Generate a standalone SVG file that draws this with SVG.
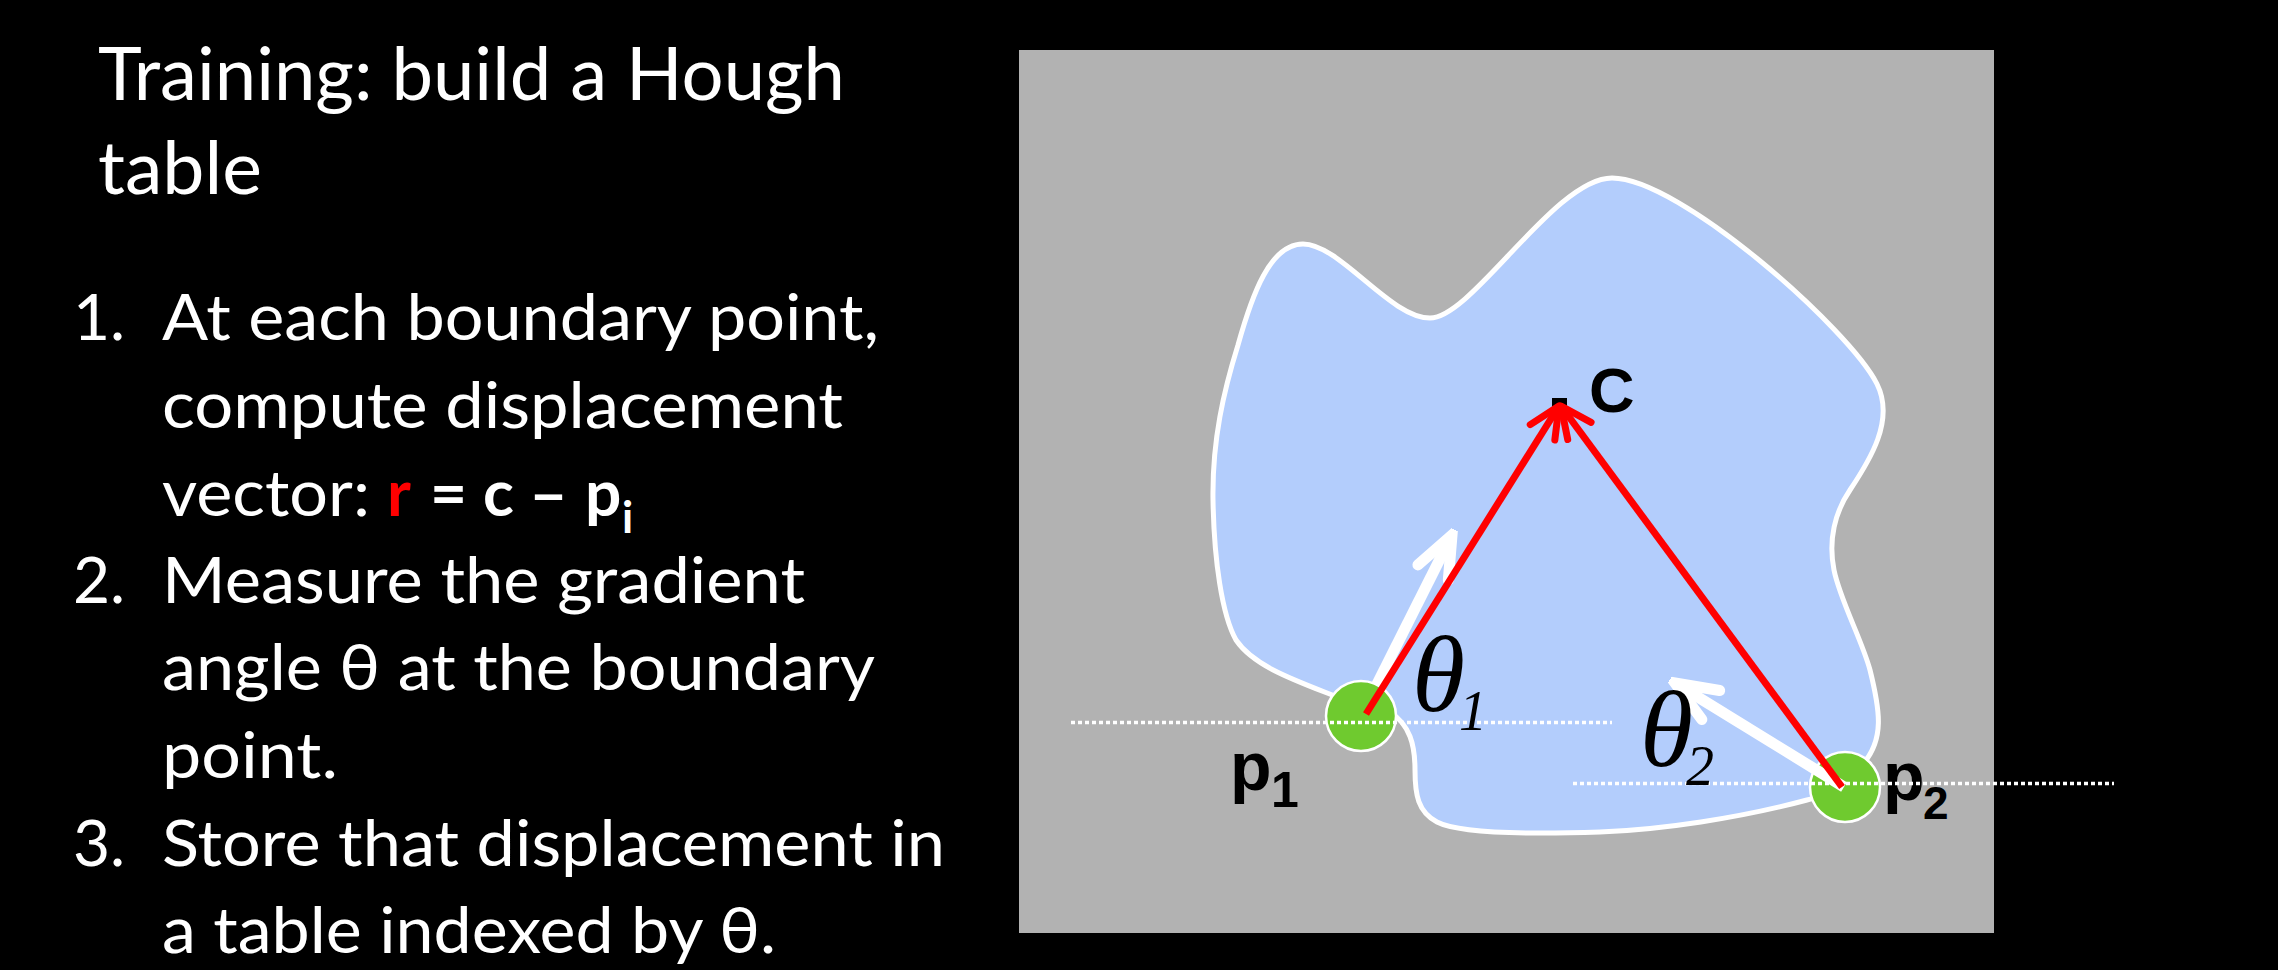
<svg xmlns="http://www.w3.org/2000/svg" width="2278" height="970" viewBox="0 0 2278 970">
<style>
.title{font-family:Lato,"Open Sans",sans-serif;font-size:74px;fill:#fff}
.body{font-family:Lato,"Open Sans",sans-serif;font-size:64px;fill:#fff}
.bold{font-weight:bold}
.lbl{font-family:"Liberation Sans",Arial,sans-serif;font-weight:bold;fill:#000}
.th{font-family:"Liberation Serif","Times New Roman",serif;font-style:italic;fill:#000}
.dot{stroke:#fff;stroke-width:3.5;stroke-dasharray:4 3;fill:none}
.red{stroke:#ff0000;stroke-width:7;fill:none}
.wht{stroke:#fff;stroke-width:11;fill:none}
.pt{fill:#6fca2f;stroke:#fff;stroke-width:2.5}
</style>
<defs>
<marker id="ah-red" markerUnits="userSpaceOnUse" viewBox="-40 -20 46 40" markerWidth="46" markerHeight="40" refX="0" refY="0" orient="auto">
<path d="M-31,-14.5 L0,0 L-31,14.5" fill="none" stroke="#ff0000" stroke-width="7" stroke-linecap="round" stroke-linejoin="round"/>
</marker>
<marker id="ah-wht" markerUnits="userSpaceOnUse" viewBox="-50 -25 56 50" markerWidth="56" markerHeight="50" refX="0" refY="0" orient="auto">
<path d="M-42,-17 L0,0 L-42,17" fill="none" stroke="#fff" stroke-width="11" stroke-linecap="round" stroke-linejoin="miter"/>
</marker>
</defs>
<rect x="0" y="0" width="2278" height="970" fill="#000"/>

<g id="text-panel">
<text class="title" x="98" y="100" textLength="747" lengthAdjust="spacingAndGlyphs">Training: build a Hough</text>
<text class="title" x="98" y="194" textLength="164" lengthAdjust="spacingAndGlyphs">table</text>
<text class="body" x="73" y="340">1.</text>
<text class="body" x="162" y="340" textLength="717" lengthAdjust="spacingAndGlyphs">At each boundary point,</text>
<text class="body" x="162" y="428" textLength="681" lengthAdjust="spacingAndGlyphs">compute displacement</text>
<text class="body" x="162" y="516" textLength="208" lengthAdjust="spacingAndGlyphs">vector:</text>
<text class="body bold" y="516"><tspan x="387" fill="#ff0000">r</tspan><tspan x="430">=</tspan><tspan x="483">c</tspan><tspan x="585">p</tspan><tspan x="622" y="533" font-size="44">i</tspan></text>
<text class="body bold" x="529" y="516" textLength="39" lengthAdjust="spacingAndGlyphs">–</text>
<text class="body" x="73" y="603">2.</text>
<text class="body" x="162" y="603" textLength="643" lengthAdjust="spacingAndGlyphs">Measure the gradient</text>
<text class="body" x="162" y="690" textLength="713" lengthAdjust="spacingAndGlyphs">angle θ at the boundary</text>
<text class="body" x="162" y="778" textLength="176" lengthAdjust="spacingAndGlyphs">point.</text>
<text class="body" x="73" y="866">3.</text>
<text class="body" x="162" y="866" textLength="783" lengthAdjust="spacingAndGlyphs">Store that displacement in</text>
<text class="body" x="162" y="953" textLength="614" lengthAdjust="spacingAndGlyphs">a table indexed by θ.</text>
</g>

<g id="panel">
<rect x="1019" y="50" width="975" height="883" fill="#b2b2b2"/>
</g>

<g id="shape">
<path d="M1345,700 C1300,682 1255,668 1236,640 C1222,615 1214,560 1213,500 C1212,440 1224,390 1238,345 C1252,295 1270,244 1303,244 C1340,244 1390,318 1430,318 C1472,318 1555,178 1612,178 C1680,178 1850,330 1877,384 C1895,420 1870,460 1850,490 C1835,512 1828,540 1834,570 C1840,600 1862,640 1870,670 C1880,710 1885,740 1862,765 C1850,780 1830,795 1807,800 C1740,818 1660,830 1600,832 C1540,834 1460,834 1437,822 C1418,812 1415,795 1415,770 C1415,745 1410,725 1390,712 Z" fill="#b3cdfc" stroke="#fff" stroke-width="5" stroke-linejoin="round"/>
</g>

<g id="connectors">
<line class="wht" x1="1361" y1="716" x2="1452" y2="535" marker-end="url(#ah-wht)"/>
</g>

<g id="p1">
<circle class="pt" cx="1361" cy="716" r="35"/>
<text class="lbl" x="1230" y="790" font-size="68">p<tspan x="1271" y="807" font-size="50">1</tspan></text>
</g>

<g id="p2">
<circle class="pt" cx="1845" cy="787" r="35"/>
<text class="lbl" x="1883" y="800" font-size="68">p<tspan x="1923" y="819" font-size="46">2</tspan></text>
</g>

<g id="c">
<rect x="1552" y="398" width="15" height="15" fill="#000"/>
<text class="lbl" x="1589" y="412" font-size="63">C</text>
</g>

<g id="guides">
<line class="dot" x1="1071" y1="722.5" x2="1612" y2="722.5"/>
<line class="dot" x1="1573" y1="783.5" x2="2114" y2="783.5"/>
</g>

<g id="vectors">
<line class="wht" x1="1844" y1="787" x2="1675" y2="683" marker-end="url(#ah-wht)"/>
<line class="red" x1="1366" y1="714" x2="1559" y2="406" marker-end="url(#ah-red)"/>
<line class="red" x1="1842" y1="787" x2="1561" y2="406" marker-end="url(#ah-red)"/>
</g>

<g id="theta1">
<text class="th" x="1412" y="711" font-size="108">θ</text>
<text class="th" x="1459" y="730" font-size="56">1</text>
</g>
<g id="theta2">
<text class="th" x="1640" y="766" font-size="108">θ</text>
<text class="th" x="1686" y="785" font-size="56">2</text>
</g>
</svg>
